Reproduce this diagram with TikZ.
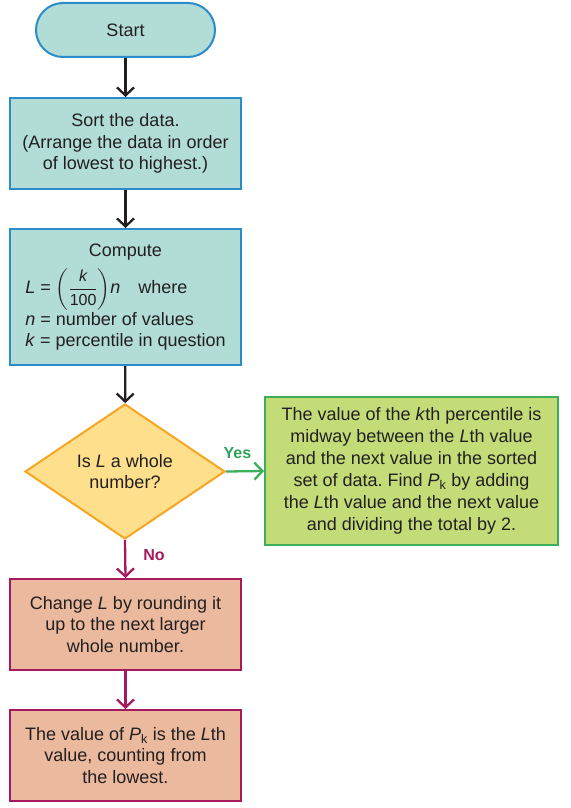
\documentclass[tikz,border=0pt]{standalone}
\usepackage{amsmath}
\usepackage{fontspec}
\setmainfont{Liberation Sans}
\frenchspacing
\usetikzlibrary{shapes.geometric,arrows.meta}
\definecolor{ink}{HTML}{231F20}
\definecolor{tealfill}{HTML}{B1DDD6}
\definecolor{tealline}{HTML}{2B8CC9}
\definecolor{yelfill}{HTML}{FDDF8C}
\definecolor{yelline}{HTML}{F6A623}
\definecolor{grnfill}{HTML}{C3DC78}
\definecolor{grnline}{HTML}{3DAE5B}
\definecolor{grntext}{HTML}{2EA35B}
\definecolor{pinkfill}{HTML}{EBB99D}
\definecolor{pinkline}{HTML}{A6195F}
\newcommand{\fracfont}{\fontsize{16}{16}\selectfont}
\begin{document}
\begin{tikzpicture}[x=1pt,y=-1pt,
  txt/.style={font=\fontsize{18}{21.5}\selectfont\frenchspacing, text=ink, align=center, inner sep=0pt},
  tealbox/.style={txt, draw=tealline, fill=tealfill, line width=2pt, minimum width=231pt},
  pinkbox/.style={txt, draw=pinkline, fill=pinkfill, line width=2pt, minimum width=231pt, minimum height=91pt},
  flow/.style={line width=2.3pt, -{Straight Barb[length=8pt,width=17pt]}},
  lbl/.style={font=\fontsize{16}{19}\selectfont\bfseries, inner sep=0pt}
]
\useasboundingbox (0,0) rectangle (570,808);

\node[tealbox, minimum width=179pt, minimum height=54pt, rounded corners=27pt] (start) at (125.5,30) {Start};

\node[tealbox, minimum height=91pt] (sort) at (125.5,143.5)
  {Sort the data.\\(Arrange the data in order\\of lowest to highest.)};

\node[tealbox, minimum height=136pt] (compute) at (125.5,297)
  {\begin{tabular}{@{}l@{}}
   \multicolumn{1}{@{}c@{}}{Compute}\\[6pt]
   \textit{L} = $\left(\dfrac{\text{\fracfont\itshape k}}{\text{\fracfont 100}}\right)$\textit{n}\quad where\\[3pt]
   \textit{n} = number of values\\
   \textit{k} = percentile in question
   \end{tabular}};

\node[txt, diamond, draw=yelline, fill=yelfill, line width=2pt,
      minimum width=200pt, minimum height=135pt] (whole) at (125,471.5)
  {Is \textit{L} a whole\\number?};

\node[txt, font=\fontsize{18}{22}\selectfont, draw=grnline, fill=grnfill, line width=2pt,
      minimum width=293pt, minimum height=148pt] (yesbox) at (411.5,471)
  {The value of the \textit{k}th percentile is\\
   midway between the \textit{L}th value\\
   and the next value in the sorted\\
   set of data. Find \textit{P}\textsubscript{k} by adding\\
   the \textit{L}th value and the next value\\
   and dividing the total by 2.};

\node[pinkbox] (change) at (125.5,624.5)
  {Change \textit{L} by rounding it\\up to the next larger\\whole number.};

\node[pinkbox] (final) at (125.5,755.5)
  {The value of \textit{P}\textsubscript{k} is the \textit{L}th\\value, counting from\\the lowest.};

\draw[flow, ink] (start) -- (sort);
\draw[flow, ink] (sort) -- (compute);
\draw[flow, ink] (compute) -- (whole);
\draw[flow, grnline] (whole.east) -- (yesbox.west)
  node[lbl, text=grntext, pos=0.3, above=12pt] (yes) {Yes};
\draw[flow, pinkline] (whole.south) -- (change.north)
  node[lbl, text=pinkline, pos=0.4, right=17pt] (no) {No};
\draw[flow, pinkline] (change) -- (final);
\end{tikzpicture}
\end{document}
